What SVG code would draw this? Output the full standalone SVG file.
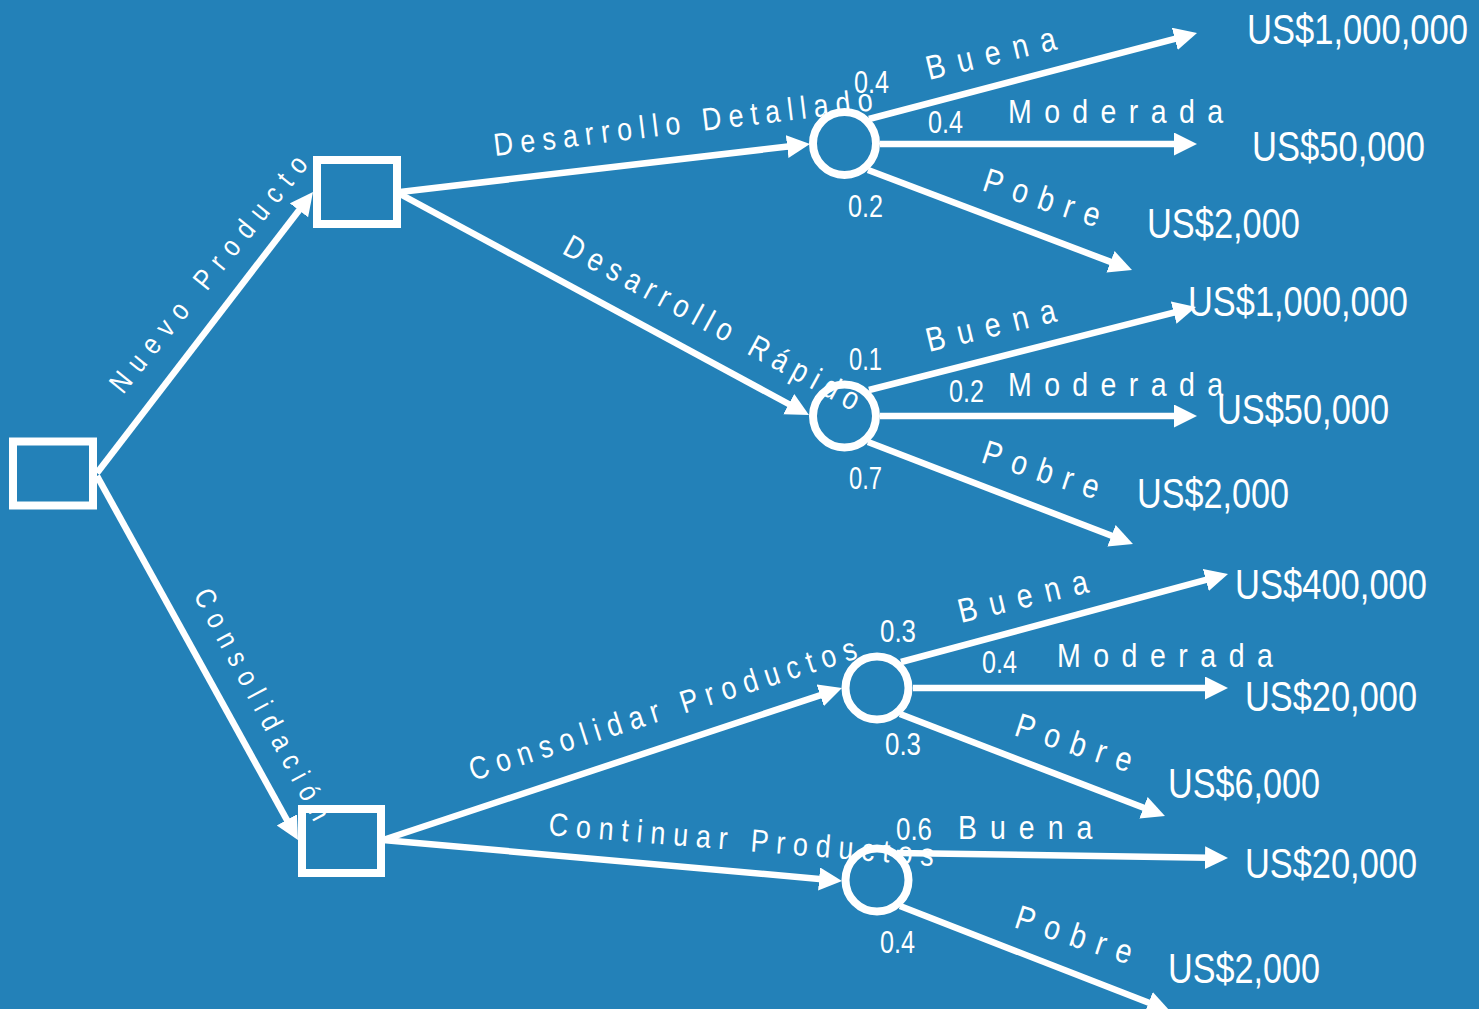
<svg xmlns="http://www.w3.org/2000/svg" width="1479" height="1009" viewBox="0 0 1479 1009">
<defs>
<style>
.bg{fill:#2381B8}
.node{fill:none;stroke:#fff;stroke-width:8}
.conn{stroke:#fff;stroke-width:6.5;fill:none}
.lbl{fill:#fff;font-family:"Liberation Sans",Arial,sans-serif;font-size:34px}
.lblm{fill:#fff;font-family:"Liberation Sans",Arial,sans-serif;font-size:32px}
.lbls{fill:#fff;font-family:"Liberation Sans",Arial,sans-serif;font-size:29px}
.prob{fill:#fff;font-family:"Liberation Sans",Arial,sans-serif;font-size:31px}
.val{fill:#fff;font-family:"Liberation Sans",Arial,sans-serif;font-size:43px}
</style>
<marker id="ah" markerUnits="userSpaceOnUse" markerWidth="24" markerHeight="24" refX="3" refY="11.5" orient="auto">
<path d="M0,0 L23,11.5 L0,23 z" fill="#fff"/>
</marker>
</defs>
<rect class="bg" x="0" y="0" width="1479" height="1009"/>

<g id="connectors">
<line class="conn" x1="97" y1="473" x2="300.8" y2="207.9" marker-end="url(#ah)"/>
<line class="conn" x1="97" y1="476" x2="288.3" y2="822.5" marker-end="url(#ah)"/>
<line class="conn" x1="400" y1="192" x2="790.1" y2="146.3" marker-end="url(#ah)"/>
<line class="conn" x1="400" y1="194" x2="791.4" y2="405.5" marker-end="url(#ah)"/>
<line class="conn" x1="383" y1="840" x2="823" y2="694.3" marker-end="url(#ah)"/>
<line class="conn" x1="383" y1="840" x2="822.1" y2="879.2" marker-end="url(#ah)"/>
<line class="conn" x1="869" y1="119" x2="1177.7" y2="38.1" marker-end="url(#ah)"/>
<line class="conn" x1="880" y1="144" x2="1177" y2="144" marker-end="url(#ah)"/>
<line class="conn" x1="868" y1="170" x2="1113.3" y2="262.9" marker-end="url(#ah)"/>
<line class="conn" x1="869" y1="390" x2="1176.6" y2="311.9" marker-end="url(#ah)"/>
<line class="conn" x1="880" y1="416" x2="1177" y2="416" marker-end="url(#ah)"/>
<line class="conn" x1="868" y1="442" x2="1114.3" y2="536.8" marker-end="url(#ah)"/>
<line class="conn" x1="901" y1="662" x2="1208.7" y2="579.2" marker-end="url(#ah)"/>
<line class="conn" x1="913" y1="688" x2="1208" y2="688" marker-end="url(#ah)"/>
<line class="conn" x1="900" y1="714" x2="1146.3" y2="808.8" marker-end="url(#ah)"/>
<line class="conn" x1="897" y1="853" x2="1208" y2="857.7" marker-end="url(#ah)"/>
<line class="conn" x1="900" y1="906" x2="1151.4" y2="1003.8" marker-end="url(#ah)"/>
</g>

<g id="decision-root"><rect class="node" x="13" y="441.5" width="80" height="64"/></g>
<g id="decision-nuevo"><rect class="node" x="317" y="160" width="80" height="64"/></g>
<g id="decision-consolidacion"><rect class="node" x="302" y="809" width="79" height="64"/></g>
<g id="chance-detallado"><circle class="node" cx="844.5" cy="143.5" r="31.5"/></g>
<g id="chance-rapido"><circle class="node" cx="844.5" cy="416" r="31.5"/></g>
<g id="chance-consolidar"><circle class="node" cx="877" cy="688" r="31.5"/></g>
<g id="chance-continuar"><circle class="node" cx="877" cy="880" r="31.5"/></g>

<g id="branch-labels">
<text class="lbls" transform="translate(123,395) rotate(-51) scale(0.84,1)" textLength="352" lengthAdjust="spacing">Nuevo Producto</text>
<text class="lbls" transform="translate(193,595) rotate(62) scale(0.84,1)" textLength="307" lengthAdjust="spacing">Consolidación</text>
<text class="lblm" transform="translate(495,156) rotate(-6.9) scale(0.84,1)" textLength="454" lengthAdjust="spacing">Desarrollo Detallado</text>
<text class="lblm" transform="translate(561,253) rotate(28.5) scale(0.84,1)" textLength="395" lengthAdjust="spacing">Desarrollo Rápido</text>
<text class="lblm" transform="translate(473,781) rotate(-17.7) scale(0.84,1)" textLength="482" lengthAdjust="spacing">Consolidar Productos</text>
<text class="lblm" transform="translate(548,835) rotate(4.6) scale(0.84,1)" textLength="460" lengthAdjust="spacing">Continuar Productos</text>

<text class="lbl" transform="translate(929,80) rotate(-13.5) scale(0.84,1)" textLength="158" lengthAdjust="spacing">Buena</text>
<text class="lbl" transform="translate(1008,123) scale(0.84,1)" textLength="256" lengthAdjust="spacing">Moderada</text>
<text class="lbl" transform="translate(981,190) rotate(18) scale(0.84,1)" textLength="144" lengthAdjust="spacing">Pobre</text>

<text class="lbl" transform="translate(929,352) rotate(-13.5) scale(0.84,1)" textLength="158" lengthAdjust="spacing">Buena</text>
<text class="lbl" transform="translate(1008,396) scale(0.84,1)" textLength="256" lengthAdjust="spacing">Moderada</text>
<text class="lbl" transform="translate(980,462) rotate(18) scale(0.84,1)" textLength="144" lengthAdjust="spacing">Pobre</text>

<text class="lbl" transform="translate(961,623) rotate(-13.5) scale(0.84,1)" textLength="158" lengthAdjust="spacing">Buena</text>
<text class="lbl" transform="translate(1057,667) scale(0.84,1)" textLength="257" lengthAdjust="spacing">Moderada</text>
<text class="lbl" transform="translate(1013,735) rotate(18) scale(0.84,1)" textLength="144" lengthAdjust="spacing">Pobre</text>

<text class="lbl" transform="translate(958,839) scale(0.84,1)" textLength="160" lengthAdjust="spacing">Buena</text>
<text class="lbl" transform="translate(1013,927) rotate(18) scale(0.84,1)" textLength="144" lengthAdjust="spacing">Pobre</text>
</g>

<g id="probabilities">
<text class="prob" x="854" y="93" textLength="35" lengthAdjust="spacingAndGlyphs">0.4</text>
<text class="prob" x="928" y="133" textLength="35" lengthAdjust="spacingAndGlyphs">0.4</text>
<text class="prob" x="848" y="217" textLength="35" lengthAdjust="spacingAndGlyphs">0.2</text>
<text class="prob" x="849" y="370" textLength="33" lengthAdjust="spacingAndGlyphs">0.1</text>
<text class="prob" x="949" y="402" textLength="35" lengthAdjust="spacingAndGlyphs">0.2</text>
<text class="prob" x="849" y="489" textLength="33" lengthAdjust="spacingAndGlyphs">0.7</text>
<text class="prob" x="880" y="642" textLength="36" lengthAdjust="spacingAndGlyphs">0.3</text>
<text class="prob" x="982" y="673" textLength="35" lengthAdjust="spacingAndGlyphs">0.4</text>
<text class="prob" x="885" y="755" textLength="36" lengthAdjust="spacingAndGlyphs">0.3</text>
<text class="prob" x="896" y="840" textLength="36" lengthAdjust="spacingAndGlyphs">0.6</text>
<text class="prob" x="880" y="953" textLength="35" lengthAdjust="spacingAndGlyphs">0.4</text>
</g>

<g id="payoffs">
<text class="val" x="1247" y="44" textLength="221" lengthAdjust="spacingAndGlyphs">US$1,000,000</text>
<text class="val" x="1252" y="161" textLength="173" lengthAdjust="spacingAndGlyphs">US$50,000</text>
<text class="val" x="1147" y="238" textLength="153" lengthAdjust="spacingAndGlyphs">US$2,000</text>
<text class="val" x="1188" y="316" textLength="220" lengthAdjust="spacingAndGlyphs">US$1,000,000</text>
<text class="val" x="1217" y="424" textLength="172" lengthAdjust="spacingAndGlyphs">US$50,000</text>
<text class="val" x="1137" y="508" textLength="152" lengthAdjust="spacingAndGlyphs">US$2,000</text>
<text class="val" x="1235" y="599" textLength="192" lengthAdjust="spacingAndGlyphs">US$400,000</text>
<text class="val" x="1245" y="711" textLength="172" lengthAdjust="spacingAndGlyphs">US$20,000</text>
<text class="val" x="1168" y="798" textLength="152" lengthAdjust="spacingAndGlyphs">US$6,000</text>
<text class="val" x="1245" y="878" textLength="172" lengthAdjust="spacingAndGlyphs">US$20,000</text>
<text class="val" x="1168" y="983" textLength="152" lengthAdjust="spacingAndGlyphs">US$2,000</text>
</g>
</svg>
